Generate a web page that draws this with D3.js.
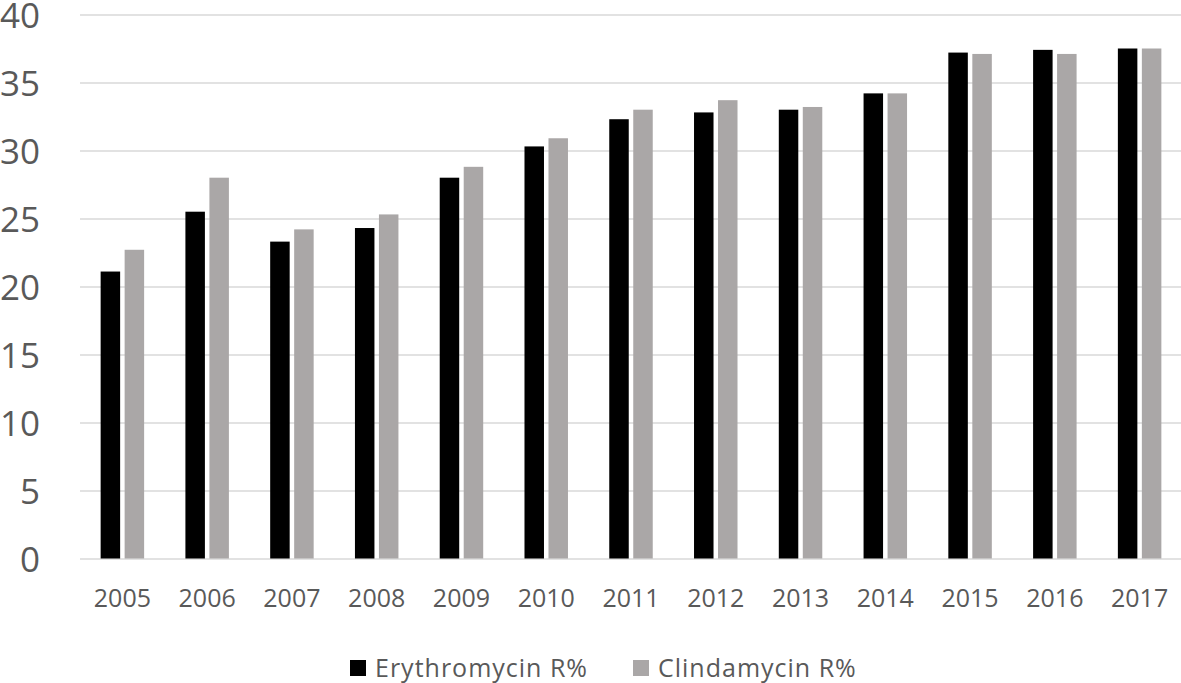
<!DOCTYPE html>
<html>
<head>
<meta charset="utf-8">
<script src="https://cdn.jsdelivr.net/npm/d3@7"></script>
<style>
  body { margin: 0; background: #fff; }
  svg text { font-family: "Open Sans", sans-serif; fill: #595959; }
</style>
</head>
<body>
<div id="chart"></div>
<script>
// data
const years = ['2005', '2006', '2007', '2008', '2009', '2010', '2011', '2012', '2013', '2014', '2015', '2016', '2017'];
const erythro = [21.1, 25.5, 23.3, 24.3, 28.0, 30.3, 32.3, 32.8, 33.0, 34.2, 37.2, 37.4, 37.5];
const clinda = [22.7, 28.0, 24.2, 25.3, 28.8, 30.9, 33.0, 33.7, 33.2, 34.2, 37.1, 37.1, 37.5];
const seriesNames = ['Erythromycin R%', 'Clindamycin R%'];
const seriesColors = ['#000000', '#aaa7a7'];
const yTicks = [0, 5, 10, 15, 20, 25, 30, 35, 40];

const W = 1181, H = 683;
const plotLeft = 80, plotRight = 1182, plotTop = 14.5, plotBottom = 558.5;

const svg = d3.select('#chart')
  .append('svg')
  .attr('width', W)
  .attr('height', H);

const y = d3.scaleLinear()
  .domain([0, 40])
  .range([plotBottom, plotTop]);

const x0 = d3.scaleBand()
  .domain(years)
  .range([plotLeft, plotRight])
  .paddingInner(0.487)
  .paddingOuter(0.2435);

const x1 = d3.scaleBand()
  .domain(seriesNames)
  .range([0, x0.bandwidth()])
  .paddingInner(0.1875);

// grid
svg.append('g')
  .attr('transform', `translate(${plotLeft},0)`)
  .call(d3.axisLeft(y).tickValues(yTicks).tickSize(-(plotRight - plotLeft)).tickFormat(''))
  .call(g => g.select('.domain').remove())
  .call(g => g.selectAll('line').attr('stroke', '#d9d9d9').attr('stroke-width', 1.6));

// y labels
svg.append('g')
  .attr('transform', 'translate(40,0)')
  .call(d3.axisLeft(y).tickValues(yTicks).tickSize(0).tickPadding(0))
  .call(g => g.select('.domain').remove())
  .call(g => g.selectAll('text')
    .attr('font-size', 35)
    .attr('font-family', '"Open Sans", sans-serif')
    .attr('fill', '#595959')
    .attr('dy', '0.37em'));

// bars
const table = years.map((yr, i) => ({ year: yr, values: [erythro[i], clinda[i]] }));

const groups = svg.selectAll('.grp')
  .data(table)
  .enter()
  .append('g')
  .attr('class', 'grp')
  .attr('transform', d => `translate(${x0(d.year)},0)`);

groups.selectAll('rect')
  .data(d => d.values.map((v, k) => ({ name: seriesNames[k], value: v, color: seriesColors[k] })))
  .enter()
  .append('rect')
  .attr('x', d => x1(d.name))
  .attr('y', d => y(d.value))
  .attr('width', x1.bandwidth())
  .attr('height', d => y(0) - y(d.value))
  .attr('fill', d => d.color);

// x labels
svg.append('g')
  .attr('transform', `translate(0,${plotBottom})`)
  .call(d3.axisBottom(x0).tickSize(0).tickPadding(0))
  .call(g => g.select('.domain').remove())
  .call(g => g.selectAll('text')
    .attr('font-size', 25)
    .attr('font-family', '"Open Sans", sans-serif')
    .attr('fill', '#595959')
    .attr('dy', null)
    .attr('y', 48));

// legend
const legendX = [350, 633];
const legend = svg.selectAll('.leg')
  .data(seriesNames)
  .enter()
  .append('g')
  .attr('class', 'leg')
  .attr('transform', (d, i) => `translate(${legendX[i]},660)`);

legend.append('rect')
  .attr('width', 16)
  .attr('height', 16)
  .attr('fill', (d, i) => seriesColors[i]);

legend.append('text')
  .attr('x', 25)
  .attr('y', 16.5)
  .attr('font-size', 25)
  .attr('letter-spacing', 1)
  .text(d => d);
</script>
</body>
</html>
